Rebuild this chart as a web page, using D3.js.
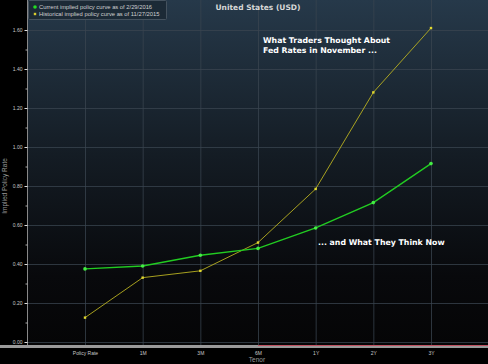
<!DOCTYPE html>
<html><head><meta charset="utf-8">
<script src="https://cdn.jsdelivr.net/npm/d3@7"></script>
<style>html,body{margin:0;padding:0;background:#000;}svg{display:block;}</style>
</head><body>
<script>
const categories = ["Policy Rate","1M","3M","6M","1Y","2Y","3Y"];
const currentValues = [0.375, 0.39, 0.445, 0.48, 0.585, 0.715, 0.915];
const historicalValues = [0.125, 0.33, 0.365, 0.51, 0.785, 1.28, 1.61];
const yTicks = [0,0.2,0.4,0.6,0.8,1.0,1.2,1.4,1.6];
const seriesNames = ["Current implied policy curve as of 2/29/2016","Historical implied policy curve as of 11/27/2015"];

const W=488,H=364;
const pLeft=27, pRight=488, pTop=0, pBottom=345;
const svg=d3.select("body").append("svg").attr("width",W).attr("height",H);
const defs=svg.append("defs");
const g=defs.append("linearGradient").attr("id","bg").attr("x1",0).attr("y1",0).attr("x2",0).attr("y2",1);
g.append("stop").attr("offset","0%").attr("stop-color","#26394a");
g.append("stop").attr("offset","45%").attr("stop-color","#141c24");
g.append("stop").attr("offset","80%").attr("stop-color","#08090c");
g.append("stop").attr("offset","100%").attr("stop-color","#050506");

svg.append("rect").attr("width",W).attr("height",H).attr("fill","#000");
svg.append("rect").attr("x",pLeft).attr("y",pTop).attr("width",pRight-pLeft).attr("height",pBottom-pTop).attr("fill","url(#bg)");

const x=d3.scalePoint().domain(categories).range([85,431]);
const y=d3.scaleLinear().domain([0,1.6]).range([342,30]);

// grid
svg.append("g").selectAll("line").data(yTicks).join("line")
  .attr("x1",pLeft).attr("x2",pRight).attr("y1",d=>y(d)+0.5).attr("y2",d=>y(d)+0.5)
  .attr("stroke","#3a4550").attr("stroke-width",1).attr("opacity",0.75);
svg.append("g").selectAll("line").data(categories).join("line")
  .attr("x1",d=>x(d)+0.5).attr("x2",d=>x(d)+0.5).attr("y1",pTop).attr("y2",pBottom)
  .attr("stroke","#3a4550").attr("stroke-width",1).attr("opacity",0.75);

// y axis
const yAxis=d3.axisLeft(y).tickValues(yTicks).tickFormat(d3.format(".2f")).tickSize(3).tickPadding(2);
const ya=svg.append("g").attr("transform",`translate(${pLeft+0.5},0)`).call(yAxis);
ya.select(".domain").attr("stroke","#888").attr("d",`M0,${pTop}V${pBottom}`);
ya.selectAll(".tick line").attr("stroke","#ddd");
ya.selectAll(".tick text").attr("fill","#c8c8c8").style("font-family","Liberation Sans, Arial, sans-serif").style("font-size","5px");
// minor ticks
svg.append("g").selectAll("line").data(d3.range(0.1,1.6,0.2)).join("line")
  .attr("x1",pLeft-1.5).attr("x2",pLeft+0.5).attr("y1",d=>y(d)+0.5).attr("y2",d=>y(d)+0.5).attr("stroke","#aaa");

svg.append("text").attr("transform",`translate(7,${186}) rotate(-90)`).attr("text-anchor","middle")
  .attr("fill","#9a9a9a").style("font-family","Liberation Sans, Arial, sans-serif").style("font-size","6.5px").text("Implied Policy Rate");

// bottom axis bar
svg.append("rect").attr("x",0).attr("y",345).attr("width",W).attr("height",3).attr("fill","#9a9a9a");
svg.append("line").attr("x1",x("6M")).attr("x2",pRight).attr("y1",345.5).attr("y2",345.5).attr("stroke","#c05060").attr("stroke-width",1);
const xAxis=d3.axisBottom(x).tickSize(0).tickPadding(3);
const xa=svg.append("g").attr("transform",`translate(0,348)`).call(xAxis);
xa.select(".domain").remove();
xa.selectAll(".tick text").attr("fill","#c8c8c8").style("font-family","Liberation Sans, Arial, sans-serif").style("font-size","5px");
svg.append("text").attr("x",257).attr("y",362).attr("text-anchor","middle").attr("fill","#9a9a9a")
  .style("font-family","Liberation Sans, Arial, sans-serif").style("font-size","6.5px").text("Tenor");

// lines
const line=d3.line().x((d,i)=>x(categories[i])).y(d=>y(d));
svg.append("path").datum(historicalValues).attr("d",line).attr("fill","none").attr("stroke","#b8b020").attr("stroke-width",0.9);
svg.append("g").selectAll("rect").data(historicalValues).join("rect")
  .attr("x",(d,i)=>x(categories[i])-1.2).attr("y",d=>y(d)-1.2).attr("width",2.4).attr("height",2.4).attr("fill","#e0d830");
svg.append("path").datum(currentValues).attr("d",line).attr("fill","none").attr("stroke","#22cc22").attr("stroke-width",1.4);
svg.append("g").selectAll("circle").data(currentValues).join("circle")
  .attr("cx",(d,i)=>x(categories[i])).attr("cy",d=>y(d)).attr("r",1.8).attr("fill","#44ee44");

// legend
svg.append("rect").attr("x",28.5).attr("y",0.5).attr("width",138).attr("height",19).attr("fill","#1c2a36").attr("stroke","#45525e").attr("rx",1);
svg.append("circle").attr("cx",35).attr("cy",7).attr("r",1.8).attr("fill","#22dd22");
svg.append("rect").attr("x",33.8).attr("y",12.8).attr("width",2.4).attr("height",2.4).attr("fill","#d8cc30");
svg.append("g").selectAll("text").data(seriesNames).join("text")
  .attr("x",39).attr("y",(d,i)=>9+i*6.5).attr("fill","#d0d0d0")
  .style("font-family","Liberation Sans, Arial, sans-serif").style("font-size","5.8px").text(d=>d);

// title
svg.append("text").attr("x",258).attr("y",10).attr("text-anchor","middle").attr("fill","#d8d8d8")
  .style("font-family","DejaVu Sans, sans-serif").style("font-weight","bold").style("font-size","7.5px").text("United States (USD)");

// annotations
const ann=svg.append("g").attr("fill","#ffffff").style("font-family","DejaVu Sans, sans-serif").style("font-weight","bold").style("font-size","7.8px");
ann.append("text").attr("x",263).attr("y",43).text("What Traders Thought About");
ann.append("text").attr("x",263).attr("y",53).text("Fed Rates in November ...");
ann.append("text").attr("x",318).attr("y",245).text("... and What They Think Now");
</script>
</body></html>
